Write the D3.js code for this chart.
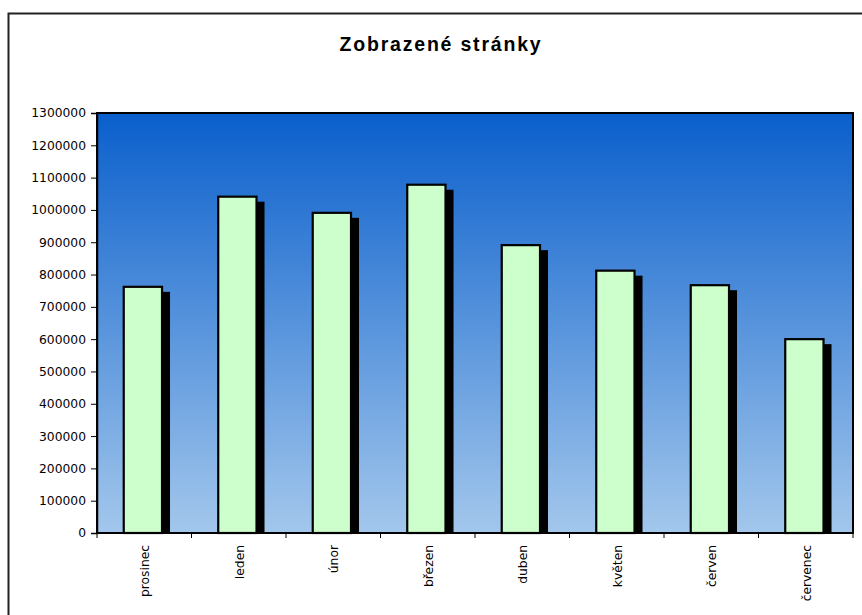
<!DOCTYPE html>
<html>
<head>
<meta charset="utf-8">
<script src="https://cdn.jsdelivr.net/npm/d3@7"></script>
<style>
  html, body { margin: 0; padding: 0; background: #fff; }
  svg { display: block; }
</style>
</head>
<body>
<script>
const title = "Zobrazené stránky";
const categories = ["prosinec", "leden", "únor", "březen", "duben", "květen", "červen", "červenec"];
const values = [762000, 1041000, 991000, 1078000, 891000, 812000, 767000, 600000];
const yTicks = [0, 100000, 200000, 300000, 400000, 500000, 600000, 700000, 800000, 900000, 1000000, 1100000, 1200000, 1300000];

const W = 862, H = 615;
const plot = { left: 97, right: 853, top: 113, bottom: 533 };

const svg = d3.select("body").append("svg").attr("width", W).attr("height", H);

// outer chart border
svg.append("rect").attr("x", 8.5).attr("y", 13.5).attr("width", W).attr("height", H)
  .attr("fill", "#fff").attr("stroke", "#222").attr("stroke-width", 2);

const defs = svg.append("defs");
const grad = defs.append("linearGradient").attr("id", "bg").attr("x1", 0).attr("y1", 0).attr("x2", 0).attr("y2", 1);
grad.append("stop").attr("offset", "0%").attr("stop-color", "#0a5fcc");
grad.append("stop").attr("offset", "100%").attr("stop-color", "#a3c7ec");

const x = d3.scaleBand().domain(categories).range([plot.left, plot.right]).paddingInner(0).paddingOuter(0);
const y = d3.scaleLinear().domain([0, 1300000]).range([plot.bottom, plot.top]);

svg.append("rect").attr("x", plot.left).attr("y", plot.top)
  .attr("width", plot.right - plot.left).attr("height", plot.bottom - plot.top)
  .attr("fill", "url(#bg)");

const bw = x.bandwidth();
const barW = bw * 0.405;
const barOff = bw * 0.283;
const sdx = 8, sdy = 5;

// shadows
svg.append("g").selectAll("rect").data(values).join("rect")
  .attr("x", (d, i) => x(categories[i]) + barOff + sdx)
  .attr("y", d => y(d) + sdy)
  .attr("width", barW)
  .attr("height", d => plot.bottom - y(d) - sdy)
  .attr("fill", "#000");

// bars
svg.append("g").selectAll("rect").data(values).join("rect")
  .attr("x", (d, i) => x(categories[i]) + barOff)
  .attr("y", d => y(d))
  .attr("width", barW)
  .attr("height", d => plot.bottom - y(d))
  .attr("fill", "#ccffcc")
  .attr("stroke", "#000")
  .attr("stroke-width", 2.2);

// plot frame
svg.append("rect").attr("x", plot.left).attr("y", plot.top)
  .attr("width", plot.right - plot.left).attr("height", plot.bottom - plot.top)
  .attr("fill", "none").attr("stroke", "#000").attr("stroke-width", 2);

// y axis
const yAxis = d3.axisLeft(y).tickValues(yTicks).tickFormat(d3.format("d")).tickSize(6).tickPadding(5);
const gy = svg.append("g").attr("transform", `translate(${plot.left},0)`).call(yAxis);
gy.select(".domain").attr("stroke", "#000").attr("stroke-width", 1.5);
gy.selectAll(".tick line").attr("stroke", "#000");
gy.selectAll("text").attr("font-family", "DejaVu Sans, Verdana, sans-serif").attr("font-size", "12.3px").attr("fill", "#000");

// x axis ticks at band boundaries
const boundaries = categories.map(c => x(c)).concat([plot.right]);
svg.append("g").selectAll("line").data(boundaries).join("line")
  .attr("x1", d => d).attr("x2", d => d)
  .attr("y1", plot.bottom).attr("y2", plot.bottom + 5)
  .attr("stroke", "#000").attr("stroke-width", 1);

// x labels
svg.append("g").selectAll("text").data(categories).join("text")
  .attr("transform", d => `translate(${x(d) + bw / 2 + 5},${plot.bottom + 12}) rotate(-90)`)
  .attr("text-anchor", "end")
  .attr("font-family", "DejaVu Sans, Verdana, sans-serif")
  .attr("font-size", "12.3px")
  .attr("fill", "#000")
  .text(d => d);

// title
svg.append("text").attr("x", 441).attr("y", 51).attr("text-anchor", "middle")
  .attr("font-family", "Liberation Sans, Arial, sans-serif").attr("font-weight", "bold")
  .attr("font-size", "19.5px").attr("letter-spacing", "1.8px").attr("fill", "#000")
  .text(title);
</script>
</body>
</html>
